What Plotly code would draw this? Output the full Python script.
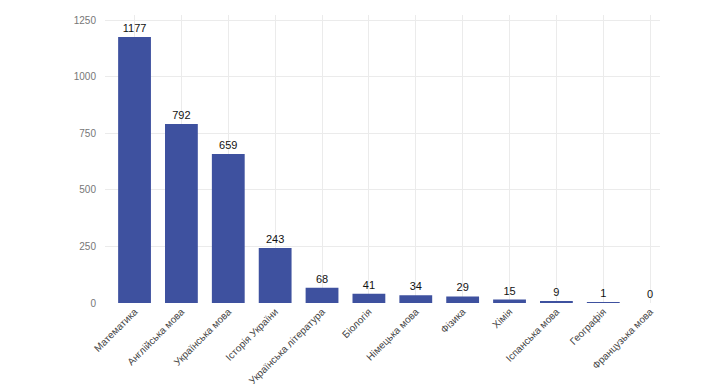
import plotly.graph_objects as go

subjects = ["Математика", "Англійська мова", "Українська мова", "Історія України",
            "Українська література", "Біологія", "Німецька мова", "Фізика", "Хімія",
            "Іспанська мова", "Географія", "Французька мова"]
counts = [1177, 792, 659, 243, 68, 41, 34, 29, 15, 9, 1, 0]
y_ticks = [0, 250, 500, 750, 1000, 1250]

fig = go.Figure(go.Bar(
    x=subjects, y=counts, text=[str(c) for c in counts], textposition="outside",
    cliponaxis=False,
    textfont=dict(family="Liberation Sans, Arial", size=11, color="#111111"),
    marker=dict(color="#3e519f", line=dict(width=0)), width=0.7,
))
# the page body adds an 8px offset; size compensates so the plot area lands where the reference has it
fig.update_layout(
    width=695, height=376, margin=dict(l=97, r=43, t=7, b=81),
    plot_bgcolor="white", paper_bgcolor="white", showlegend=False,
    font=dict(family="Liberation Sans, Arial", size=10, color="#555555"),
    xaxis=dict(range=[-0.63, 11.21], tickangle=-45, showgrid=True, gridcolor="#ebebeb",
               tickfont=dict(size=10, color="#444444"), showline=False, zeroline=False, ticks="",
               automargin=False),
    yaxis=dict(range=[0, 1274], tickvals=y_ticks, showgrid=True, gridcolor="#ebebeb",
               tickfont=dict(size=10, color="#777777"), zeroline=False, showline=False, ticks="",
               ticklabelstandoff=8, automargin=False),
)
fig.write_html("out.html")
